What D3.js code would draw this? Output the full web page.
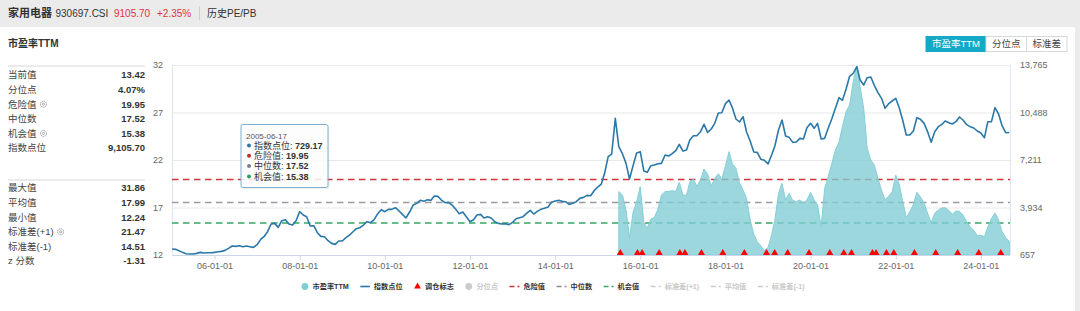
<!DOCTYPE html>
<html>
<head>
<meta charset="utf-8">
<script src="https://cdn.jsdelivr.net/npm/d3@7"></script>
<style>
  html, body { margin: 0; padding: 0; background: #ebebeb; }
  svg { display: block; font-family: "Liberation Sans", Arial, "Noto Sans CJK SC", sans-serif; }
</style>
</head>
<body>
<script>
const width = 1080;
const height = 311;

// index level, one value per month from 2005-01
const indexStart = new Date(2005, 0, 1);
const indexValues = [
  1069, 1046, 954, 839, 747, 729, 724, 770, 839, 793, 816, 816,
  839, 885, 908, 977, 1115, 1276, 1253, 1299, 1230, 1276, 1230, 1184,
  1368, 1736, 1920, 2265, 2794, 2840, 2564, 3024, 3093, 2794, 2725, 3024,
  3645, 3415, 3300, 2656, 2679, 2196, 1943, 1920, 1644, 1460, 1391, 1621,
  1621, 1851, 2012, 2242, 2472, 2541, 2725, 2955, 2886, 3093, 3507, 3783,
  3645, 3806, 3806, 3921, 3714, 3461, 3208, 3622, 4105, 4220, 4427, 4358,
  4473, 4427, 4726, 4703, 4450, 4266, 4289, 4105, 3806, 3507, 3622, 3300,
  2955, 3093, 3415, 3461, 3208, 3300, 3208, 2955, 2840, 2794, 2817, 2748,
  2909, 3162, 3231, 3300, 3530, 3737, 3484, 3668, 3806, 3875, 3967, 4289,
  4381, 4427, 4358, 4335, 4151, 4220, 4335, 4565, 4634, 4772, 4749, 5094,
  5347, 5554, 6290, 7440, 7624, 10085, 8130, 7647, 6980, 5899, 6842, 7693,
  7785, 6451, 6359, 6819, 6865, 6957, 6980, 7555, 7486, 7647, 7854, 8291,
  7831, 7900, 8590, 8889, 8889, 9165, 9671, 9119, 9349, 9740, 10453, 10476,
  11097, 11350, 10821, 10039, 9832, 10200, 9142, 8521, 7762, 7739, 7256, 7187,
  6934, 7555, 8176, 9280, 9970, 8866, 8774, 8429, 8452, 8705, 8659, 9441,
  9740, 9395, 9740, 8659, 8705, 9418, 10039, 10775, 11511, 11327, 12109, 12983,
  13190, 13650, 12730, 12385, 12891, 12937, 12362, 11856, 11465, 10775, 11097, 11281,
  11465, 10775, 9970, 8935, 8935, 9211, 10131, 10016, 9740, 9165, 8429, 9165,
  9510, 9671, 9901, 9786, 9694, 9855, 10177, 9970, 9648, 9510, 9418, 9211,
  9073, 8751, 9855, 9855, 10821, 10384, 9579, 9096, 9106
];

// PE TTM, one value per month from 2015-07
const peStart = new Date(2015, 6, 1);
const peValues = [
  18.67, 18.32, 16.74, 13.82, 16.53, 17.61,
  19.19, 15.40, 14.81, 15.79, 15.96, 16.84, 18.32, 18.67, 18.70, 18.77, 18.70, 19.65,
  18.32, 18.28, 19.72, 19.97, 19.23, 19.90, 21.05, 20.53, 19.26, 20.04, 20.56, 19.97,
  21.40, 22.88, 21.61, 21.12, 19.61, 18.84, 17.97, 15.68, 14.18, 13.40, 12.95, 12.49,
  12.77, 14.11, 15.68, 18.49, 19.54, 17.79, 18.49, 17.75, 17.61, 17.79, 17.47, 17.79,
  18.60, 17.79, 17.26, 14.98, 19.02, 20.28, 21.61, 23.05, 23.86, 25.54, 27.09, 27.79,
  30.25, 31.86, 29.72, 27.44, 23.23, 22.00, 21.47, 20.07, 18.81, 17.82, 18.18, 18.67,
  20.42, 19.37, 17.68, 15.93, 16.56, 17.33, 18.60, 18.11, 17.47, 16.39, 15.40, 16.39,
  16.74, 16.95, 16.98, 16.70, 16.28, 16.63, 16.60, 16.21, 15.51, 14.95, 14.60, 14.04,
  14.07, 13.93, 14.95, 15.86, 16.42, 15.68, 14.46, 13.82, 13.42
];

// rebalance markers
const tradeDates = [
  '2015-07-14', '2015-12-08', '2016-01-17', '2016-06-11', '2016-12-06', '2017-01-18',
  '2017-06-09', '2017-12-09', '2018-06-12', '2018-12-19', '2019-02-27', '2019-06-19',
  '2019-12-19', '2020-06-14', '2020-10-12', '2020-12-17', '2021-06-15', '2021-07-16',
  '2021-10-13', '2021-12-15', '2022-06-10', '2022-12-10', '2023-06-16', '2023-12-14',
  '2024-06-20'
];

const dangerValue = 19.95;
const medianValue = 17.52;
const chanceValue = 15.38;

const peTicks = [12, 17, 22, 27, 32];
const indexTicks = [657, 3934, 7211, 10488, 13765];
const dateTicks = ['2006-01-01', '2008-01-01', '2010-01-01', '2012-01-01', '2014-01-01',
  '2016-01-01', '2018-01-01', '2020-01-01', '2022-01-01', '2024-01-01'];
const dateDomain = ['2005-01-01', '2024-09-07'];

const statsTop = [
  ['当前值', '13.42', false], ['分位点', '4.07%', false], ['危险值', '19.95', true],
  ['中位数', '17.52', false], ['机会值', '15.38', true], ['指数点位', '9,105.70', false]
];
const statsBottom = [
  ['最大值', '31.86', false], ['平均值', '17.99', false], ['最小值', '12.24', false],
  ['标准差(+1)', '21.47', true], ['标准差(-1)', '14.51', false], ['z 分数', '-1.31', false]
];

const tooltipDate = '2005-06-17';
const tooltipRows = [
  ['指数点位', '729.17', '#2b78a8'], ['危险值', '19.95', '#c9282d'],
  ['中位数', '17.52', '#7b7f8a'], ['机会值', '15.38', '#2aa35a']
];

const legendItems = [
  { label: '市盈率TTM', type: 'circle', color: '#80cdd6', on: true },
  { label: '指数点位', type: 'line', color: '#2b78a8', on: true },
  { label: '调仓标志', type: 'triangle', color: '#ff0000', on: true },
  { label: '分位点', type: 'circle', color: '#cccccc', on: false },
  { label: '危险值', type: 'dash', color: '#d0343a', on: true },
  { label: '中位数', type: 'dash', color: '#8a8a8a', on: true },
  { label: '机会值', type: 'dash', color: '#35a866', on: true },
  { label: '标准差(+1)', type: 'dash', color: '#cccccc', on: false },
  { label: '平均值', type: 'dash', color: '#cccccc', on: false },
  { label: '标准差(-1)', type: 'dash', color: '#cccccc', on: false }
];

const buttons = ['市盈率TTM', '分位点', '标准差'];

// ---- layout
const plot = { left: 172, right: 1010, top: 65, bottom: 255 };
const parse = d3.timeParse('%Y-%m-%d');

const svg = d3.select('body').append('svg')
  .attr('width', width)
  .attr('height', height);

// header band + white card
svg.append('rect').attr('width', width).attr('height', height).attr('fill', '#ebebeb');
svg.append('rect').attr('x', 0).attr('y', 27).attr('width', 1075).attr('height', height - 27)
  .attr('fill', '#fff');

const head = svg.append('text').attr('y', 16.5).attr('fill', '#333').style('font-size', '10px');
head.append('tspan').attr('x', 8).style('font-size', '11px').style('font-weight', 'bold').text('家用电器');
head.append('tspan').attr('x', 55.5).text('930697.CSI');
head.append('tspan').attr('x', 114).attr('fill', '#e2323c').text('9105.70');
head.append('tspan').attr('x', 157).attr('fill', '#e2323c').text('+2.35%');
svg.append('line').attr('x1', 199.5).attr('x2', 199.5).attr('y1', 6).attr('y2', 20)
  .attr('stroke', '#cfcfcf');
svg.append('text').attr('x', 207).attr('y', 16.5).attr('fill', '#333')
  .style('font-size', '10px').text('历史PE/PB');

svg.append('text').attr('x', 8).attr('y', 47).attr('fill', '#333')
  .style('font-size', '10px').style('font-weight', 'bold').text('市盈率TTM');

// buttons
const btnX = [926, 986, 1026.5];
const btnW = [60, 40.5, 40.5];
buttons.forEach((b, i) => {
  svg.append('rect').attr('x', btnX[i]).attr('y', 36.5).attr('width', btnW[i]).attr('height', 15)
    .attr('fill', i === 0 ? '#14a9c6' : '#fff')
    .attr('stroke', i === 0 ? '#14a9c6' : '#d9d9d9');
  svg.append('text').attr('x', btnX[i] + btnW[i] / 2).attr('y', 47.3)
    .attr('text-anchor', 'middle').attr('fill', i === 0 ? '#fff' : '#444')
    .style('font-size', '9.5px').text(b);
});

// stats panel
function gear(g, x, y) {
  g.append('circle').attr('cx', x).attr('cy', y).attr('r', 3)
    .attr('fill', 'none').attr('stroke', '#999').attr('stroke-width', 1).attr('stroke-dasharray', '1.4,0.6');
  g.append('circle').attr('cx', x).attr('cy', y).attr('r', 1.1)
    .attr('fill', 'none').attr('stroke', '#999').attr('stroke-width', 0.8);
}
function statsBlock(rows, y0) {
  const g = svg.append('g');
  rows.forEach((r, i) => {
    const y = y0 + i * 14.6;
    const t = g.append('text').attr('x', 8).attr('y', y + 3.4).attr('fill', '#444')
      .style('font-size', '9.5px').text(r[0]);
    if (r[2]) gear(g, 8 + t.node().getComputedTextLength() + 7, y);
    g.append('text').attr('x', 145).attr('y', y + 3.4).attr('text-anchor', 'end')
      .attr('fill', '#333').style('font-size', '9.5px').style('font-weight', 'bold').text(r[1]);
  });
}
[66, 180].forEach(y => svg.append('line').attr('x1', 8).attr('x2', 145).attr('y1', y).attr('y2', y)
  .attr('stroke', '#e4e4e4').attr('stroke-width', 1.5));
statsBlock(statsTop, 75);
statsBlock(statsBottom, 188);

// ---- scales
const x = d3.scaleTime().domain(dateDomain.map(parse)).range([plot.left, plot.right]);
const yPE = d3.scaleLinear().domain([12, 32]).range([plot.bottom, plot.top]);
const yIdx = d3.scaleLinear().domain([657, 13765]).range([plot.bottom, plot.top]);

const indexData = indexValues.map((v, i) => ({ date: d3.timeMonth.offset(indexStart, i), v }));
const peData = peValues.map((v, i) => ({ date: d3.timeMonth.offset(peStart, i), v }));

// grid
svg.append('g').selectAll('line').data(peTicks).join('line')
  .attr('x1', plot.left).attr('x2', plot.right)
  .attr('y1', d => yPE(d) + 0.5).attr('y2', d => yPE(d) + 0.5)
  .attr('stroke', d => d === 12 ? '#ccd6eb' : '#e9e9e9');
[plot.left, plot.right].forEach(px => svg.append('line')
  .attr('x1', px + 0.5).attr('x2', px + 0.5).attr('y1', plot.top).attr('y2', plot.bottom)
  .attr('stroke', '#dde5f0'));

// axes
const axisStyle = g => {
  g.select('.domain').remove();
  g.selectAll('text').attr('fill', '#666').style('font-size', '9px')
    .style('font-family', '"Liberation Sans", Arial, sans-serif');
};
svg.append('g').attr('transform', `translate(${plot.left - 9},0)`)
  .call(d3.axisLeft(yPE).tickValues(peTicks).tickSize(0).tickPadding(0))
  .call(axisStyle);
svg.append('g').attr('transform', `translate(${plot.right + 10},0)`)
  .call(d3.axisRight(yIdx).tickValues(indexTicks).tickSize(0).tickPadding(0).tickFormat(d3.format(',')))
  .call(axisStyle);
svg.append('g').attr('transform', `translate(0,${plot.bottom + 0.5})`)
  .call(d3.axisBottom(x).tickValues(dateTicks.map(parse)).tickSize(4).tickPadding(3)
    .tickFormat(d3.timeFormat('%y-%m-%d')))
  .call(axisStyle)
  .call(g => g.selectAll('line').attr('stroke', '#ccd6eb'));

// clip
svg.append('clipPath').attr('id', 'clip').append('rect')
  .attr('x', plot.left).attr('y', plot.top - 2)
  .attr('width', plot.right - plot.left).attr('height', plot.bottom - plot.top + 2);
const chart = svg.append('g').attr('clip-path', 'url(#clip)');

// reference lines
[[dangerValue, '#d0343a'], [medianValue, '#9a9aa2'], [chanceValue, '#35a866']].forEach(([v, c]) => {
  chart.append('line').attr('x1', plot.left).attr('x2', plot.right)
    .attr('y1', yPE(v)).attr('y2', yPE(v))
    .attr('stroke', c).attr('stroke-width', 1.5).attr('stroke-dasharray', '6.5,4.5');
});

// PE area
chart.append('path').datum(peData)
  .attr('d', d3.area().x(d => x(d.date)).y0(yPE(12)).y1(d => yPE(d.v)))
  .attr('fill', '#80ccd5').attr('fill-opacity', 0.78)
  .attr('stroke', '#86cfd7').attr('stroke-width', 1);

// index line
chart.append('path').datum(indexData)
  .attr('d', d3.line().x(d => x(d.date)).y(d => yIdx(d.v)))
  .attr('fill', 'none').attr('stroke', '#2b78a8').attr('stroke-width', 1.6)
  .attr('stroke-linejoin', 'round');

// markers
chart.append('g').selectAll('path').data(tradeDates).join('path')
  .attr('d', d3.symbol(d3.symbolTriangle, 22))
  .attr('transform', d => `translate(${x(parse(d))},${plot.bottom - 2})`)
  .attr('fill', '#ff0000');

// tooltip
const tip = svg.append('g').attr('transform', 'translate(241,124.5)');
tip.append('rect').attr('x', 1.5).attr('y', 1.5).attr('width', 87).attr('height', 63).attr('rx', 2)
  .attr('fill', '#000').attr('fill-opacity', 0.06);
tip.append('rect').attr('width', 87).attr('height', 63).attr('rx', 2)
  .attr('fill', '#fff').attr('fill-opacity', 0.86)
  .attr('stroke', '#7fb0cf').attr('stroke-width', 1);
tip.append('text').attr('x', 5).attr('y', 14).attr('fill', '#555')
  .style('font-size', '8px').text(tooltipDate);
tooltipRows.forEach((r, i) => {
  const cy = 21 + i * 10.3;
  tip.append('circle').attr('cx', 8).attr('cy', cy).attr('r', 2).attr('fill', r[2]);
  const t = tip.append('text').attr('x', 13).attr('y', cy + 3.2).attr('fill', '#333')
    .style('font-size', '9px');
  t.append('tspan').text(r[0] + ': ');
  t.append('tspan').style('font-weight', 'bold').text(r[1]);
});

// legend
const legend = svg.append('g');
let lx = 301.5;
const ly = 286.5;
legendItems.forEach(it => {
  let w;
  if (it.type === 'circle') {
    legend.append('circle').attr('cx', lx + 3.4).attr('cy', ly).attr('r', 3.4).attr('fill', it.color);
    w = 7;
  } else if (it.type === 'line') {
    legend.append('line').attr('x1', lx).attr('x2', lx + 9.5).attr('y1', ly).attr('y2', ly)
      .attr('stroke', it.color).attr('stroke-width', 1.6);
    w = 9.5;
  } else if (it.type === 'triangle') {
    legend.append('path').attr('d', d3.symbol(d3.symbolTriangle, 20))
      .attr('transform', `translate(${lx + 3.4},${ly})`).attr('fill', it.color);
    w = 7;
  } else {
    legend.append('line').attr('x1', lx).attr('x2', lx + 10).attr('y1', ly).attr('y2', ly)
      .attr('stroke', it.color).attr('stroke-width', 1.5).attr('stroke-dasharray', '5,3');
    w = 10;
  }
  const t = legend.append('text').attr('x', lx + w + 4).attr('y', ly + 2.6)
    .attr('fill', it.on ? '#333' : '#c8c8c8')
    .style('font-size', '7.2px').style('font-weight', 'bold').text(it.label);
  lx += w + 4 + t.node().getComputedTextLength() + 11.5;
});
</script>
</body>
</html>
